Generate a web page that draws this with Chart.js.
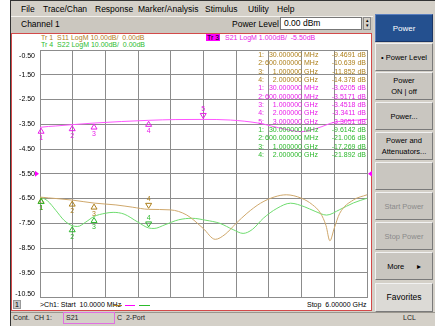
<!DOCTYPE html>
<html>
<head>
<meta charset="utf-8">
<script src="https://cdn.jsdelivr.net/npm/chart.js@4.4.1/dist/chart.umd.min.js"></script>
<style>
  body { margin: 0; width: 435px; height: 326px; overflow: hidden; background: #fff; position: relative;
         font-family: "Liberation Sans", Arial, sans-serif; }
  .abs { position: absolute; white-space: nowrap; }
  #app { position: absolute; left: 10px; top: 0; width: 425px; height: 326px; background: #d4d0c8;
         border-left: 1px solid #333; border-top: 1px solid #333; box-sizing: border-box; }
  .menu { font-size: 8.5px; top: 4px; color: #000; }
  #chanbar { left: 11px; top: 16px; width: 362px; height: 16px; background: #cbc7bf; border-top: 1px solid #f4f2ee; }
  #plotbox { left: 11px; top: 33px; width: 361px; height: 278px; background: #fff; border: 1.5px solid #d34a4a; box-sizing: border-box; }
  .hdr { font-size: 7px; }
  .btn { position: absolute; left: 375px; width: 58px; height: 28px; background: #c9c6c0; box-sizing: border-box;
         border-top: 1px solid #f2f2f2; border-left: 1px solid #f2f2f2; border-right: 1px solid #7a7a7a; border-bottom: 1px solid #7a7a7a;
         font-size: 7.5px; text-align: center; display: flex; align-items: center; justify-content: center; line-height: 11px; color: #000; }
  .mk { font-size: 7px; z-index: 3; }
  .st { font-size: 7px; top: 314px; color: #222; }
  canvas { position: absolute; left: 0; top: 0; z-index: 2; }
</style>
</head>
<body>
<div id="app"></div>
<div class="abs menu" style="left:21px">File</div>
<div class="abs menu" style="left:43px">Trace/Chan</div>
<div class="abs menu" style="left:95px">Response</div>
<div class="abs menu" style="left:138px">Marker/Analysis</div>
<div class="abs menu" style="left:205px">Stimulus</div>
<div class="abs menu" style="left:248px">Utility</div>
<div class="abs menu" style="left:277px">Help</div>

<div class="abs" id="chanbar"></div>
<div class="abs" style="left:21px;top:19px;font-size:8.5px">Channel 1</div>
<div class="abs" style="left:232px;top:19px;font-size:8.5px">Power Level</div>
<div class="abs" style="left:280px;top:17px;width:82px;height:13px;background:#fff;border:1px solid #777;box-sizing:border-box;font-size:8.5px;padding-left:3px;line-height:11px">0.00 dBm</div>
<div class="abs" style="left:363px;top:17px;width:8px;height:13px;background:#d4d0c8;border:1px solid #888;box-sizing:border-box;font-size:5px;line-height:5px;text-align:center">▴<br>▾</div>

<div class="abs" id="plotbox"></div>
<div class="abs hdr" style="left:41px;top:34px;color:#b0801c">Tr&nbsp;1&nbsp;&nbsp;S11 LogM 10.00dB/&nbsp;&nbsp;0.00dB</div>
<div class="abs hdr" style="left:41px;top:41px;color:#2cbb2c">Tr&nbsp;4&nbsp;&nbsp;S22 LogM 10.00dB/&nbsp;&nbsp;0.00dB</div>
<div class="abs hdr" style="left:206px;top:34px;background:#ff00ff;color:#000;padding:0 1px">Tr 3</div>
<div class="abs hdr" style="left:225px;top:34px;color:#e81ce8">S21 LogM 1.000dB/&nbsp;&nbsp;-5.50dB</div>
<div id="mtable"></div>

<div class="abs" style="left:13px;top:300px;width:8px;height:9px;background:#c8c8c8;border:1px solid #999;box-sizing:border-box;font-size:7px;text-align:center;line-height:8px">1</div>
<div class="abs hdr" style="left:40px;top:301px">&gt;Ch1: Start&nbsp;&nbsp;10.0000 MHz</div>
<div class="abs" style="left:113px;top:305px;width:9px;height:1px;background:#b0801c"></div>
<div class="abs" style="left:125px;top:305px;width:10px;height:1px;background:#ff00ff"></div>
<div class="abs" style="left:139px;top:305px;width:11px;height:1px;background:#2cbb2c"></div>
<div class="abs hdr" style="left:307px;top:301px">Stop&nbsp;&nbsp;6.00000 GHz</div>

<div class="btn" style="top:14px;background:#24508f;border-color:#5a7fbf #1a3566 #1a3566 #5a7fbf;color:#fff;font-size:8px">Power</div>
<div class="btn" style="top:43px">• Power Level</div>
<div class="btn" style="top:72px">Power<br>ON | off</div>
<div class="btn" style="top:102px">Power...</div>
<div class="btn" style="top:132px">Power and<br>Attenuators...</div>
<div class="btn" style="top:162px"></div>
<div class="btn" style="top:192px;color:#8a8a8a">Start Power</div>
<div class="btn" style="top:222px;color:#8a8a8a">Stop Power</div>
<div class="btn" style="top:252px">More&nbsp;&nbsp;&nbsp;&nbsp;&nbsp;&nbsp;▸</div>
<div class="btn" style="top:283px;height:29px;background:#dcdad6;font-size:8.5px">Favorites</div>

<div class="abs" style="left:11px;top:312px;width:424px;height:1px;background:#9a968e"></div>
<div class="abs st" style="left:13px">Cont.</div>
<div class="abs st" style="left:34px">CH 1:</div>
<div class="abs" style="left:63px;top:312px;width:52px;height:12px;border:1px solid #e070e0;box-sizing:border-box"></div>
<div class="abs st" style="left:66px">S21</div>
<div class="abs st" style="left:117px">C&nbsp;&nbsp;2-Port</div>
<div class="abs st" style="left:403px">LCL</div>

<canvas id="vna" width="435" height="326"></canvas>

<script>
// sweep: 10 MHz .. 6 GHz (values in GHz)
const startGHz = 0.01;
const stopGHz = 6;
const yTicks = [-0.5, -1.5, -2.5, -3.5, -4.5, -5.5, -6.5, -7.5, -8.5, -9.5, -10.5];
const s21Ref = -5.5;

// S11 LogM 10 dB/div, ref 0 dB
const s11Freq = [0.01, 0.03, 0.3, 0.6, 1.0, 1.4, 1.7, 2.0, 2.4, 2.7, 3.0, 3.22, 3.4, 3.6, 3.8, 4.05, 4.3, 4.52, 4.8, 5.0, 5.15, 5.25, 5.32, 5.4, 5.5, 5.75, 6.0];
const s11Db = [-9.4, -9.47, -10.0, -10.64, -11.85, -12.6, -13.5, -14.38, -14.6, -16.7, -22.1, -26.5, -24.5, -20.1, -16.0, -11.9, -9.4, -8.5, -9.9, -12.5, -16.0, -21.0, -27.1, -22.0, -16.0, -10.6, -8.5];

// S21 LogM 1 dB/div, ref -5.5 dB
const s21Freq = [0.01, 0.03, 0.3, 0.6, 1.0, 1.5, 2.0, 2.5, 3.0, 3.5, 4.0, 4.5, 4.8, 5.1, 5.4, 5.7, 6.0];
const s21Db = [-3.63, -3.62, -3.57, -3.517, -3.452, -3.39, -3.341, -3.31, -3.305, -3.33, -3.45, -3.7, -3.8, -3.65, -3.42, -3.35, -3.3];

// S22 LogM 10 dB/div, ref 0 dB
const s22Freq = [0.01, 0.03, 0.15, 0.3, 0.45, 0.6, 0.7, 0.85, 1.0, 1.2, 1.35, 1.55, 1.8, 2.0, 2.1, 2.3, 2.55, 2.8, 3.05, 3.3, 3.55, 3.73, 3.9, 4.1, 4.35, 4.6, 4.85, 5.05, 5.26, 5.5, 5.75, 6.0];
const s22Db = [-9.5, -9.61, -11.0, -14.8, -18.8, -21.0, -21.3, -19.5, -17.27, -16.0, -15.6, -16.3, -19.5, -21.9, -22.1, -20.6, -18.6, -18.0, -18.8, -20.0, -22.6, -24.1, -22.5, -18.0, -14.0, -11.9, -13.3, -15.2, -16.7, -14.5, -11.8, -9.9];

// markers
const markerFreq = [0.03, 0.6, 1.0, 2.0, 3.0];
const markerFreqText = ['30.000000 MHz', '600.000000 MHz', '1.000000 GHz', '2.000000 GHz', '3.000000 GHz'];
const s11Markers = [-9.4691, -10.639, -11.852, -14.378];
const s21Markers = [-3.6205, -3.5171, -3.4518, -3.3411, -3.3051];
const s22Markers = [-9.6142, -21.006, -17.269, -21.892];

const colS11 = '#cfa86c', txtS11 = '#ad7f1a';
const colS21 = '#ff55ff', txtS21 = '#e81ce8';
const colS22 = '#6fdc6f', txtS22 = '#2cb82c';
const gridCol = '#8c8c8c';

const xGrid = [];
for (let i = 0; i <= 10; i++) xGrid.push(startGHz + (stopGHz - startGHz) * i / 10);

function pts(f, v) { return f.map((x, i) => ({ x: x, y: v[i] })); }

// marker readout table
const rows = [];
s11Markers.forEach((v, i) => rows.push([i + 1, markerFreqText[i], v, txtS11]));
s21Markers.forEach((v, i) => rows.push([i + 1, markerFreqText[i], v, txtS21]));
s22Markers.forEach((v, i) => rows.push([i + 1, markerFreqText[i], v, txtS22]));
const mt = document.getElementById('mtable');
rows.forEach((r, k) => {
    const top = 51 + k * 8.33;
    const parts = r[1].split(' ');
    mt.innerHTML += `
        <div class="abs mk" style="right:${435 - 264}px;top:${top}px;color:${r[3]}">${r[0]}:</div>
        <div class="abs mk" style="right:${435 - 302}px;top:${top}px;color:${r[3]}">${parts[0]}</div>
        <div class="abs mk" style="left:304px;top:${top}px;color:${r[3]}">${parts[1]}</div>
        <div class="abs mk" style="right:${435 - 366}px;top:${top}px;color:${r[3]}">${r[2].toPrecision(5)} dB</div>`;
});

function drawMarker(ctx, x, y, n, color, active) {
    ctx.strokeStyle = color;
    ctx.fillStyle = color;
    ctx.lineWidth = 1;
    ctx.beginPath();
    if (active) {
        ctx.moveTo(x, y - 1); ctx.lineTo(x - 3, y - 6); ctx.lineTo(x + 3, y - 6);
    } else {
        ctx.moveTo(x, y + 1); ctx.lineTo(x - 3, y + 6); ctx.lineTo(x + 3, y + 6);
    }
    ctx.closePath();
    ctx.stroke();
    ctx.fillText(String(n), x, active ? y - 10 : y + 11);
}

const vnaOverlay = {
    id: 'vnaOverlay',
    afterDatasetsDraw(chart) {
        const ctx = chart.ctx;
        const xs = chart.scales.x, ys = chart.scales.y, y2 = chart.scales.y2;
        ctx.save();
        ctx.font = '7px "Liberation Sans", Arial, sans-serif';
        ctx.textAlign = 'right';
        ctx.textBaseline = 'middle';
        ctx.fillStyle = '#000';
        yTicks.forEach((t, i) => {
            let py = ys.getPixelForValue(t);
            if (i === 0) py += 6;
            if (i === yTicks.length - 1) py -= 3;
            ctx.fillText(t.toFixed(2), 35, py);
        });
        // reference position arrows
        const ry = ys.getPixelForValue(s21Ref);
        ctx.fillStyle = '#ff00ff';
        ctx.beginPath();
        ctx.moveTo(xs.left - 1, ry); ctx.lineTo(xs.left - 5, ry - 3); ctx.lineTo(xs.left - 5, ry + 3); ctx.fill();
        ctx.beginPath();
        ctx.moveTo(xs.right + 1, ry); ctx.lineTo(xs.right + 5, ry - 3); ctx.lineTo(xs.right + 5, ry + 3); ctx.fill();
        // markers
        ctx.textAlign = 'center';
        s11Markers.forEach((v, i) => drawMarker(ctx, xs.getPixelForValue(markerFreq[i]), y2.getPixelForValue(v), i + 1, txtS11, i === s11Markers.length - 1));
        s21Markers.forEach((v, i) => drawMarker(ctx, xs.getPixelForValue(markerFreq[i]), ys.getPixelForValue(v), i + 1, txtS21, i === s21Markers.length - 1));
        s22Markers.forEach((v, i) => drawMarker(ctx, xs.getPixelForValue(markerFreq[i]), y2.getPixelForValue(v), i + 1, txtS22, i === s22Markers.length - 1));
        ctx.restore();
    }
};

const lineStyle = { borderWidth: 1, pointRadius: 0, cubicInterpolationMode: 'monotone', fill: false };

new Chart(document.getElementById('vna'), {
    type: 'line',
    data: {
        datasets: [
            Object.assign({ label: 'S11', data: pts(s11Freq, s11Db), yAxisID: 'y2', borderColor: colS11 }, lineStyle),
            Object.assign({ label: 'S22', data: pts(s22Freq, s22Db), yAxisID: 'y2', borderColor: colS22 }, lineStyle),
            Object.assign({ label: 'S21', data: pts(s21Freq, s21Db), yAxisID: 'y', borderColor: colS21 }, lineStyle)
        ]
    },
    options: {
        responsive: false,
        animation: false,
        devicePixelRatio: 1,
        layout: { padding: { left: 40, top: 50, right: 68, bottom: 28.5 } },
        plugins: { legend: { display: false }, tooltip: { enabled: false } },
        scales: {
            x: {
                type: 'linear', min: startGHz, max: stopGHz,
                afterBuildTicks: s => { s.ticks = xGrid.map(v => ({ value: v })); },
                ticks: { display: false },
                grid: { color: gridCol, drawTicks: false },
                border: { color: gridCol }
            },
            y: {
                min: -10.5, max: -0.5,
                afterBuildTicks: s => { s.ticks = yTicks.map(v => ({ value: v })); },
                ticks: { display: false },
                grid: { color: gridCol, drawTicks: false },
                border: { color: gridCol }
            },
            y2: { display: false, min: -50, max: 50 }
        }
    },
    plugins: [vnaOverlay]
});
</script>
</body>
</html>
